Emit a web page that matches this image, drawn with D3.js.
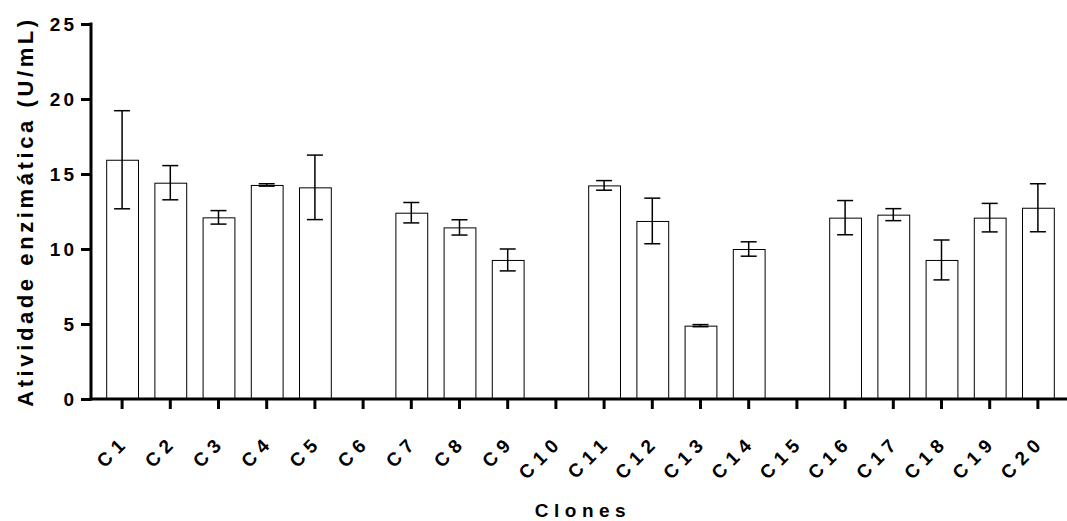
<!DOCTYPE html>
<html>
<head>
<meta charset="utf-8">
<script src="https://cdn.jsdelivr.net/npm/d3@7"></script>
<style>
  body { margin: 0; background: #fff; }
  text { font-family: 'Liberation Sans', Arial, sans-serif; font-weight: bold; fill: #000; }
</style>
</head>
<body>
<svg id="chart" width="1067" height="521"></svg>
<script>
// Clones and enzyme activity (mean and SD), null = not measured
var clones = ['C1', 'C2', 'C3', 'C4', 'C5', 'C6', 'C7', 'C8', 'C9', 'C10',
  'C11', 'C12', 'C13', 'C14', 'C15', 'C16', 'C17', 'C18', 'C19', 'C20']
var means = [15.95, 14.42, 12.11, 14.27, 14.11, null, 12.42, 11.44, 9.27, null,
  14.24, 11.87, 4.89, 10.0, null, 12.09, 12.29, 9.27, 12.09, 12.75]
var sds = [3.27, 1.14, 0.45, 0.08, 2.15, null, 0.68, 0.51, 0.73, null,
  0.32, 1.52, 0.07, 0.48, null, 1.14, 0.4, 1.33, 0.95, 1.6]
var yTicks = [0, 5, 10, 15, 20, 25]

var svg = d3.select('#chart')

// Scales
var x = d3.scaleBand()
  .domain(clones)
  .range([98, 1062])
  .paddingInner(0.34)
  .paddingOuter(0.17)

var y = d3.scaleLinear()
  .domain([0, 25])
  .range([399, 24])

var data = clones.map(function (c, i) {
  return { name: c, mean: means[i], sd: sds[i] }
}).filter(function (d) { return d.mean !== null })

// Bars
svg.selectAll('.bar')
  .data(data)
  .enter().append('rect')
  .attr('class', 'bar')
  .attr('x', function (d) { return x(d.name) + 0.5 })
  .attr('y', function (d) { return y(d.mean) + 0.5 })
  .attr('width', x.bandwidth())
  .attr('height', function (d) { return y(0) - y(d.mean) })
  .style('fill', '#fff')
  .style('stroke', '#000')
  .style('stroke-width', '1px')

// Error bars
var capHalf = 8
var err = svg.selectAll('.err')
  .data(data)
  .enter().append('g')
  .attr('class', 'err')
  .style('stroke', '#000')
  .style('stroke-width', '1.5px')

err.append('line')
  .attr('x1', function (d) { return x(d.name) + x.bandwidth() / 2 })
  .attr('x2', function (d) { return x(d.name) + x.bandwidth() / 2 })
  .attr('y1', function (d) { return y(d.mean + d.sd) })
  .attr('y2', function (d) { return y(d.mean - d.sd) })

err.append('line')
  .attr('x1', function (d) { return x(d.name) + x.bandwidth() / 2 - capHalf })
  .attr('x2', function (d) { return x(d.name) + x.bandwidth() / 2 + capHalf })
  .attr('y1', function (d) { return y(d.mean + d.sd) })
  .attr('y2', function (d) { return y(d.mean + d.sd) })

err.append('line')
  .attr('x1', function (d) { return x(d.name) + x.bandwidth() / 2 - capHalf })
  .attr('x2', function (d) { return x(d.name) + x.bandwidth() / 2 + capHalf })
  .attr('y1', function (d) { return y(d.mean - d.sd) })
  .attr('y2', function (d) { return y(d.mean - d.sd) })

// Y axis
var yAxis = svg.append('g')
  .attr('transform', 'translate(91,0)')
  .call(d3.axisLeft(y).tickValues(yTicks).tickSize(10).tickPadding(7))

yAxis.select('.domain').remove()
yAxis.selectAll('.tick line').style('stroke', '#000').style('stroke-width', '3px')
yAxis.selectAll('.tick text')
  .style('font-size', '19px')
  .style('letter-spacing', '3px')
  .attr('dx', '3px')

svg.append('line')
  .attr('x1', 91).attr('x2', 91)
  .attr('y1', y(25) - 1.5).attr('y2', y(0) + 1.5)
  .style('stroke', '#000').style('stroke-width', '3px')

// X axis
var xAxis = svg.append('g')
  .attr('transform', 'translate(0,' + y(0) + ')')
  .call(d3.axisBottom(x).tickSize(10).tickSizeOuter(0))

xAxis.select('.domain').remove()
xAxis.selectAll('.tick line').style('stroke', '#000').style('stroke-width', '3px')
xAxis.selectAll('.tick text')
  .attr('y', 0)
  .attr('dy', 0)
  .attr('text-anchor', 'end')
  .attr('transform', 'translate(8,44) rotate(-45)')
  .style('font-size', '19px')
  .style('letter-spacing', '6px')

svg.append('line')
  .attr('x1', 89.5).attr('x2', 1067)
  .attr('y1', y(0)).attr('y2', y(0))
  .style('stroke', '#000').style('stroke-width', '3px')

// Axis titles
svg.append('text')
  .attr('transform', 'translate(33,' + (y(0) + y(25)) / 2 + ') rotate(-90)')
  .attr('text-anchor', 'middle')
  .style('font-size', '22px')
  .style('letter-spacing', '3.6px')
  .text('Atividade enzimática (U/mL)')

svg.append('text')
  .attr('x', 583)
  .attr('y', 517)
  .attr('text-anchor', 'middle')
  .style('font-size', '19px')
  .style('letter-spacing', '5.5px')
  .text('Clones')
</script>
</body>
</html>
